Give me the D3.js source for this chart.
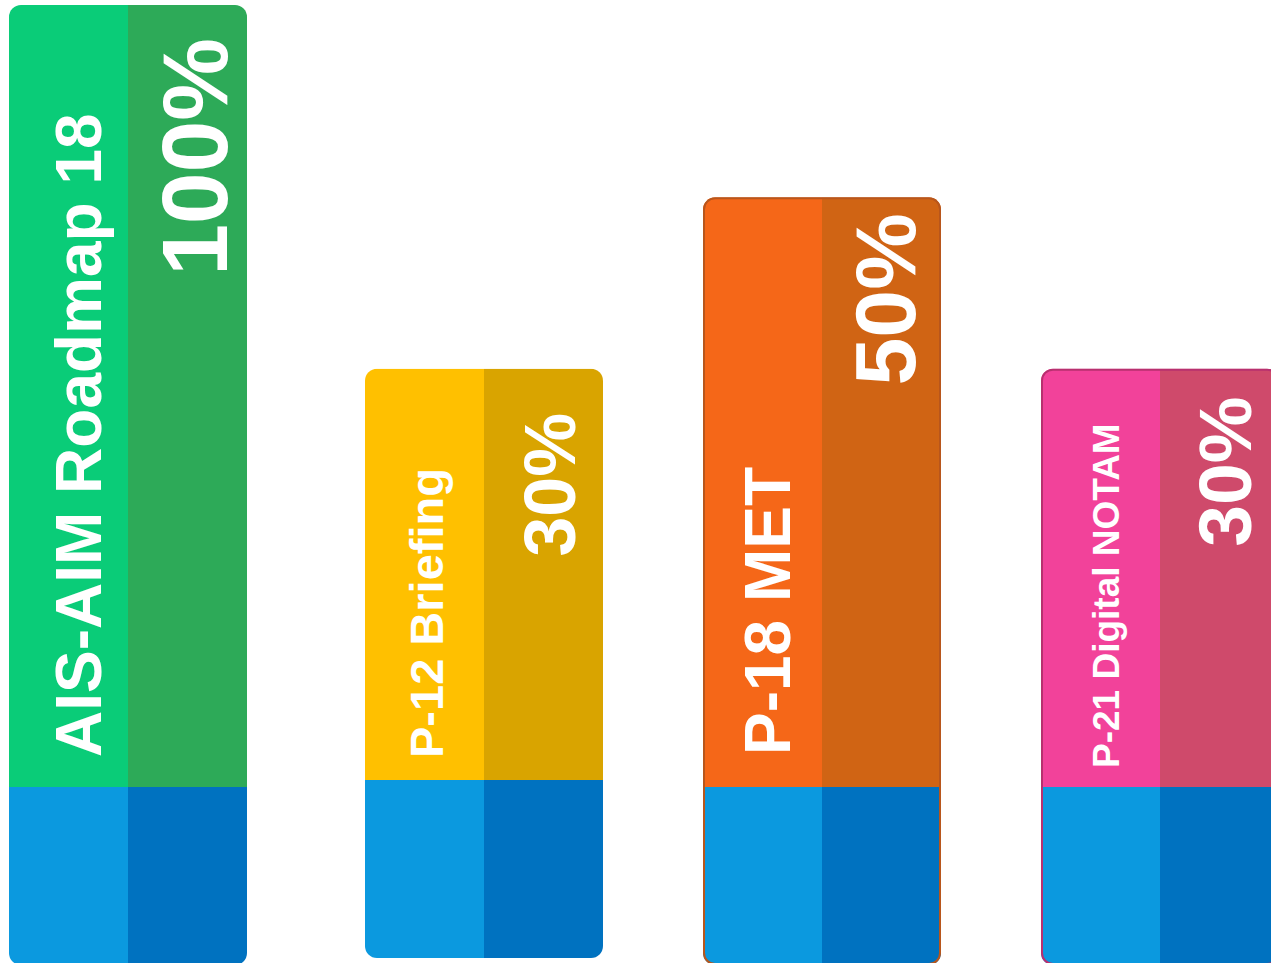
<!DOCTYPE html>
<html><head><meta charset="utf-8">
<script src="https://cdn.jsdelivr.net/npm/d3@7"></script>
<style>html,body{margin:0;padding:0;background:#fff;overflow:hidden}</style>
</head><body><svg id="chart" width="1271" height="963"></svg>
<script>
// ---- data ----
const categories = ["AIS-AIM Roadmap 18", "P-12 Briefing", "P-18 MET", "P-21 Digital NOTAM"];
const percentValues = [100, 30, 50, 30];
const columnLevels = [100, 52.6, 75.4, 53.5];

// ---- styles / layout ----
const lightColors = ["#0ACC78", "#FFC000", "#F56718", "#F2429A"];
const darkColors  = ["#2DAA58", "#D9A400", "#D06414", "#CF4A6B"];
const borderColors = [null, null, "#B8561C", "#B8306F"];
const baseLight = "#0B99DF", baseDark = "#0072C0";
const W = 1271, H = 963;
const barW = 238, half = 119, radius = 12, baseTop = 787, baseH = 178;
const xNudge = [0, 12, 6, 0];
const yShift = [0, -7, 0, 0];
const titleSize = [64, 47, 64, 37];
const titleX = [92, 78, 87, 78];
const titleGap = [30, 22, 32, 19];
const pctSize = [93, 72, 86, 75];
const pctX = [218, 210, 212, 210];
const pctGap = [33, 44, 16, 28];
const font = "'Liberation Sans', Arial, Helvetica, sans-serif";

const svg = d3.select("#chart");
const x = d3.scalePoint().domain(categories).range([9, 1041]).padding(0);
const y = d3.scaleLinear().domain([0, 100]).range([baseTop, 5]);

const defs = svg.append("defs");
const groups = svg.selectAll("g.bar").data(categories).join("g").attr("class", "bar")
  .attr("transform", (d, i) => `translate(${x(d) + xNudge[i]},${yShift[i]})`);

groups.each(function (d, i) {
  const g = d3.select(this);
  const top = y(columnLevels[i]);
  const bottom = baseTop + baseH;
  const cid = "clip" + i;
  defs.append("clipPath").attr("id", cid).append("rect")
    .attr("x", 0).attr("y", top).attr("width", barW).attr("height", bottom - top)
    .attr("rx", radius).attr("ry", radius);
  const inner = g.append("g").attr("clip-path", `url(#${cid})`);
  inner.append("rect").attr("x", 0).attr("y", top).attr("width", half).attr("height", baseTop - top).attr("fill", lightColors[i]);
  inner.append("rect").attr("x", half).attr("y", top).attr("width", barW - half).attr("height", baseTop - top).attr("fill", darkColors[i]);
  inner.append("rect").attr("x", 0).attr("y", baseTop).attr("width", half).attr("height", baseH).attr("fill", baseLight);
  inner.append("rect").attr("x", half).attr("y", baseTop).attr("width", barW - half).attr("height", baseH).attr("fill", baseDark);
  if (borderColors[i]) {
    g.append("rect").attr("x", 1).attr("y", top + 1).attr("width", barW - 2).attr("height", bottom - top - 2)
      .attr("rx", radius - 1).attr("ry", radius - 1)
      .attr("fill", "none").attr("stroke", borderColors[i]).attr("stroke-width", 2);
  }
  g.append("text")
    .attr("transform", `translate(${titleX[i]},${baseTop - titleGap[i]}) rotate(-90)`)
    .attr("text-anchor", "start")
    .attr("font-family", font).attr("font-weight", "bold")
    .attr("font-size", titleSize[i]).attr("fill", "#fff")
    .text(d);
  g.append("text")
    .attr("transform", `translate(${pctX[i]},${top + pctGap[i]}) rotate(-90)`)
    .attr("text-anchor", "end")
    .attr("font-family", font).attr("font-weight", "bold")
    .attr("font-size", pctSize[i]).attr("fill", "#fff")
    .text(d3.format("d")(percentValues[i]) + "%");
});
</script></body></html>
